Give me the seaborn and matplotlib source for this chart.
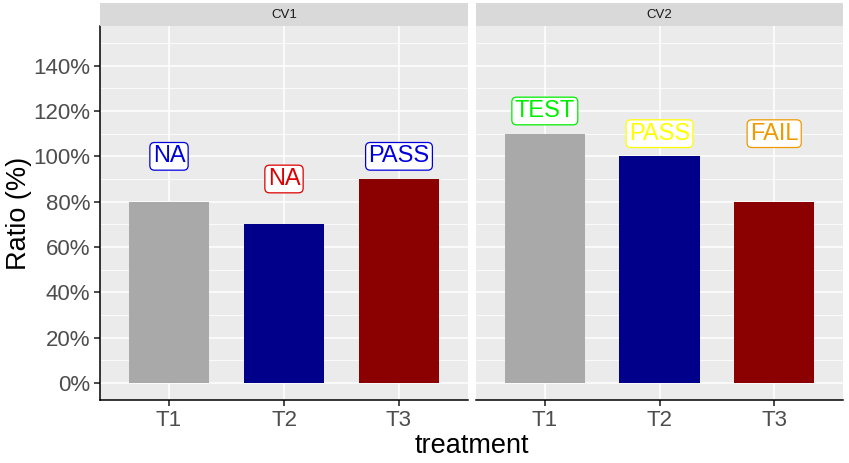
import matplotlib
matplotlib.use("Agg")
import matplotlib.pyplot as plt
import seaborn as sns
import pandas as pd
from matplotlib.ticker import PercentFormatter, MultipleLocator

# ── Data ──────────────────────────────────────────────────────────────────────
treatment = ["T1", "T2", "T3"]
facets = ["CV1", "CV2"]
ratio_cv1 = [0.8, 0.7, 0.9]
ratio_cv2 = [1.1, 1.0, 0.8]
label_cv1 = ["NA", "NA", "PASS"]
label_cv2 = ["TEST", "PASS", "FAIL"]
label_y_cv1 = [1.0, 0.9, 1.0]
label_y_cv2 = [1.2, 1.1, 1.1]
label_col_cv1 = ["#0000DD", "#DD0000", "#0000DD"]
label_col_cv2 = ["#00EE00", "#FFFF00", "#EE9A00"]
bar_colours = ["#A9A9A9", "#00008B", "#8B0000"]

sns.set_theme(style="white")
plt.rcParams["font.family"] = ["Liberation Sans", "DejaVu Sans"]

W, H = 849, 463
fig = plt.figure(figsize=(W / 100, H / 100), dpi=100)

def box(x0, y0, x1, y1):
    # pixel box (top-left origin) -> figure fraction
    return [x0 / W, 1 - y1 / H, (x1 - x0) / W, (y1 - y0) / H]

panels = [
    (facets[0], ratio_cv1, label_cv1, label_y_cv1, label_col_cv1, 100, 468),
    (facets[1], ratio_cv2, label_cv2, label_y_cv2, label_col_cv2, 476, 843),
]

for i, (name, vals, labs, ly, lc, x0, x1) in enumerate(panels):
    ax = fig.add_axes(box(x0, 26, x1, 400))
    df = pd.DataFrame({"treatment": treatment, "ratio": vals})
    sns.barplot(data=df, x="treatment", y="ratio", hue="treatment",
                palette=bar_colours, width=0.7, ax=ax, legend=False,
                saturation=1, linewidth=0, zorder=3)
    ax.set_facecolor("#EBEBEB")
    ax.set_xlim(-0.6, 2.6)
    ax.set_ylim(-0.075, 1.575)
    ax.yaxis.set_major_locator(MultipleLocator(0.2))
    ax.yaxis.set_minor_locator(MultipleLocator(0.1))
    ax.yaxis.set_major_formatter(PercentFormatter(1.0, decimals=0))
    ax.grid(which="major", color="white", linewidth=1.1, zorder=0)
    ax.grid(which="minor", axis="y", color="white", linewidth=0.55, zorder=0)
    ax.set_axisbelow(True)
    for s in ["top", "right"]:
        ax.spines[s].set_visible(False)
    ax.spines["bottom"].set_color("black")
    ax.spines["bottom"].set_linewidth(1.1)
    ax.tick_params(axis="x", which="both", length=4, color="#333333",
                   labelsize=16, labelcolor="#4D4D4D", bottom=True, pad=3)
    if i == 0:
        ax.spines["left"].set_color("black")
        ax.spines["left"].set_linewidth(1.1)
        ax.tick_params(axis="y", which="major", length=4, color="#333333",
                       labelsize=16, labelcolor="#4D4D4D", left=True, pad=3)
        ax.tick_params(axis="y", which="minor", length=0)
    else:
        ax.spines["left"].set_visible(False)
        ax.tick_params(axis="y", which="both", length=0, labelleft=False)
    ax.set_ylabel("")
    ax.set_xlabel("")

    for xi, (t, y, c) in enumerate(zip(labs, ly, lc)):
        ax.text(xi, y, t, ha="center", va="center", fontsize=17, color=c,
                zorder=5,
                bbox=dict(boxstyle="round,pad=0.12,rounding_size=0.2",
                          fc="white", ec=c, lw=0.9))

    # facet strip
    sax = fig.add_axes(box(x0, 3, x1, 26))
    sax.set_facecolor("#D9D9D9")
    sax.set_xticks([])
    sax.set_yticks([])
    for s in sax.spines.values():
        s.set_visible(False)
    sax.text(0.5, 0.5, name, ha="center", va="center", fontsize=9.5,
             color="#1A1A1A", transform=sax.transAxes)

fig.text(19 / W, 1 - 213 / H, "Ratio (%)", ha="center", va="center",
         rotation=90, fontsize=19.5, color="black")
fig.text(472 / W, 1 - 446 / H, "treatment", ha="center", va="center",
         fontsize=19.5, color="black")

fig.savefig("out.png", dpi=100)
